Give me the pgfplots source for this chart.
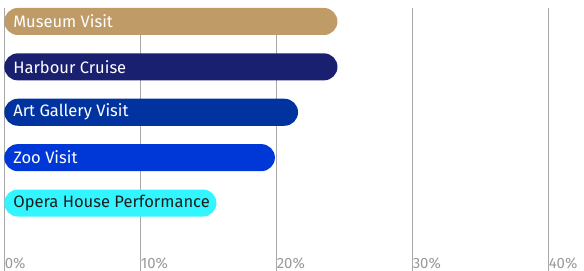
\documentclass[border=0pt]{standalone}
\usepackage{pgfplots}
\pgfplotsset{compat=1.18}
\usepackage{fontspec}
\setmainfont{Fira Sans}
\definecolor{museum}{HTML}{BF9B68}
\definecolor{harbour}{HTML}{1A2070}
\definecolor{art}{HTML}{0033A0}
\definecolor{zoo}{HTML}{0038D8}
\definecolor{opera}{HTML}{33F5FF}
\definecolor{gridc}{HTML}{A8A8A8}
\definecolor{tickc}{HTML}{9A9A9A}
\definecolor{darktext}{HTML}{1E1E1E}
\begin{document}
\begin{tikzpicture}
\begin{axis}[
  scale only axis, width=579.7bp, height=263bp,
  xmin=0, xmax=42.63, ymin=-0.297, ymax=5.498, y dir=reverse,
  axis line style={draw=none},
  ytick=\empty,
  xtick={0,10,20,30,40},
  xticklabels={0\%,10\%,20\%,30\%,40\%},
  xmajorgrids,
  major grid style={gridc, line width=1bp},
  major tick length=0pt,
  xticklabel style={anchor=base west, yshift=3bp, xshift=-3bp, text=tickc, font=\fontsize{15}{16}\selectfont},
  clip=false,
  lbl/.style={draw=none, mark=none, nodes near coords, point meta=explicit symbolic,
    nodes near coords style={anchor=west, xshift=5.5bp, font=\fontsize{16.6}{17}\selectfont}},
  bx/.style={xbar, bar width=27bp, bar shift=0pt, draw=none, rounded corners=13.5bp},
]
\addplot[bx, fill=museum] coordinates {(24.5,0)};
\addplot[bx, fill=harbour] coordinates {(24.5,1)};
\addplot[bx, fill=art] coordinates {(21.6,2)};
\addplot[bx, fill=zoo] coordinates {(19.9,3)};
\addplot[bx, fill=opera] coordinates {(15.6,4)};
\addplot[lbl, nodes near coords style={text=white}] coordinates {(0,0) [Museum Visit] (0,1) [Harbour Cruise] (0,2) [Art Gallery Visit] (0,3) [Zoo Visit]};
\addplot[lbl, nodes near coords style={text=darktext}] coordinates {(0,4) [Opera House Performance]};
\end{axis}
\pgfresetboundingbox
\useasboundingbox (-4.3bp,0) rectangle (579.7bp,271bp);
\end{tikzpicture}
\end{document}
